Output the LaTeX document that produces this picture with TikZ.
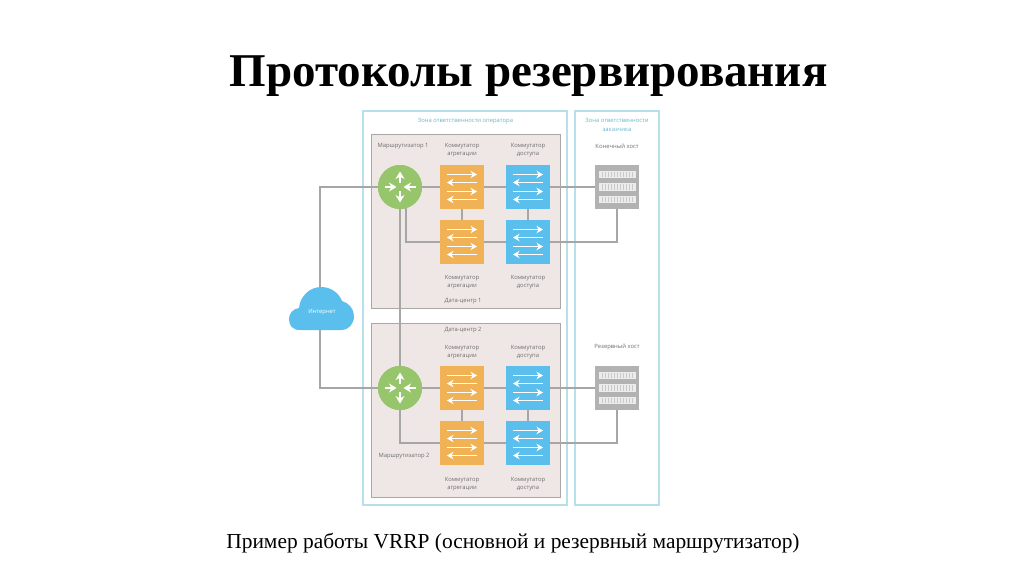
\documentclass[tikz,border=0pt]{standalone}
\usepackage{fontspec}
\setmainfont{Liberation Serif}
\newfontfamily\lab{Open Sans}
\usetikzlibrary{arrows.meta,calc}
\definecolor{zonec}{HTML}{B8E0EB}
\definecolor{dcfill}{HTML}{EEE7E5}
\definecolor{dcedge}{HTML}{ABA7A5}
\definecolor{linec}{HTML}{A6A6A6}
\definecolor{orangec}{HTML}{F0B255}
\definecolor{bluec}{HTML}{5BBFEE}
\definecolor{greenc}{HTML}{96C56C}
\definecolor{hostc}{HTML}{B2B2B2}
\definecolor{textc}{HTML}{6E6E6E}
\definecolor{zonet}{HTML}{66B6CC}
\tikzset{
 zonebox/.style={draw=zonec,line width=1.4pt,fill=white},
 dcbox/.style={draw=dcedge,line width=1pt,fill=dcfill},
 link/.style={draw=linec,line width=1.6pt},
 swbox/.style={minimum width=44pt,minimum height=44pt,inner sep=0pt,fill=#1},
 hostbox/.style={minimum width=44pt,minimum height=44pt,inner sep=0pt,fill=hostc},
 rtr/.style={circle,minimum size=44pt,inner sep=0pt,fill=greenc},
 lbl/.style={font=\lab\fontsize{5.85}{8.2}\selectfont,text=textc,align=center,inner sep=0pt},
 zlbl/.style={font=\lab\fontsize{5.85}{8.2}\selectfont,text=zonet,align=center,inner sep=0pt},
 warrow/.style={draw=white,line width=1.8pt,-{Stealth[length=6.5pt,width=7.5pt]}},
}
\newcommand{\swarrows}[1]{%
 \draw[warrow] ($(#1)+(-15,-12.5)$) -- ($(#1)+(15,-12.5)$);
 \draw[warrow] ($(#1)+(15,-4.5)$) -- ($(#1)+(-15,-4.5)$);
 \draw[warrow] ($(#1)+(-15,4.5)$) -- ($(#1)+(15,4.5)$);
 \draw[warrow] ($(#1)+(15,12.5)$) -- ($(#1)+(-15,12.5)$);}
\newcommand{\rtrarrows}[1]{%
 \foreach \dx/\dy/\ex/\ey in {0/-4/0/-15.5,0/4/0/15.5,-15.5/0/-3.5/0,15.5/0/3.5/0}{%
  \draw[draw=white,line width=1.9pt,-{Stealth[length=7.5pt,width=9pt]}] ($(#1)+(\dx pt,\dy pt)$) -- ($(#1)+(\ex pt,\ey pt)$);}}
\newcommand{\hostbars}[1]{%
 \foreach \dy in {-12.7,0,12.7}{%
  \fill[white!75!hostc] ($(#1)+(-18.5,\dy-3.7)$) rectangle ($(#1)+(18.5,\dy+3.7)$);
  \foreach \dx in {-15,-12,...,15}{\draw[hostc!70!white,line width=.5pt] ($(#1)+(\dx,\dy-2.7)$) -- ($(#1)+(\dx,\dy+2.7)$);}}}
\begin{document}
\begin{tikzpicture}[x=1pt,y=-1pt]
\useasboundingbox (0,0) rectangle (1024,574);
\fill[white] (0,0) rectangle (1024,574);
\node[font=\bfseries\fontsize{47}{50}\selectfont,inner sep=0pt] (title) at (528.5,76) {Протоколы резервирования};
\node[font=\fontsize{21.4}{24}\selectfont,inner sep=0pt] (cap) at (513,543) {Пример работы VRRP (основной и резервный маршрутизатор)};
\draw[zonebox] (363,111) rectangle (567,505);
\draw[zonebox] (575,111) rectangle (659,505);
\draw[dcbox] (371,134) rectangle (560,308);
\draw[dcbox] (371,323) rectangle (560,497);
\node[zlbl] (z1) at (465.5,121) {Зона ответственности оператора};
\node[zlbl] (z2) at (617,125) {Зона ответственности\\заказчика};
\node[lbl] (t1) at (403,146) {Маршрутизатор 1};
\node[lbl] (t2) at (462,150) {Коммутатор\\агрегации};
\node[lbl] (t3) at (528,150) {Коммутатор\\доступа};
\node[lbl] (t4) at (617,146) {Конечный хост};
\node[lbl] (t5) at (462,282) {Коммутатор\\агрегации};
\node[lbl] (t6) at (528,282) {Коммутатор\\доступа};
\node[lbl] (t7) at (463,301) {Дата-центр 1};
\node[lbl] (t8) at (463,330) {Дата-центр 2};
\node[lbl] (t9) at (462,352) {Коммутатор\\агрегации};
\node[lbl] (t10) at (528,352) {Коммутатор\\доступа};
\node[lbl] (t11) at (617,347) {Резервный хост};
\node[lbl] (t12) at (404,456) {Маршрутизатор 2};
\node[lbl] (t13) at (462,484) {Коммутатор\\агрегации};
\node[lbl] (t14) at (528,484) {Коммутатор\\доступа};
% nodes
\node[rtr] (r1) at (400,187) {};
\node[rtr] (r2) at (400,388) {};
\node[swbox=orangec] (a1) at (462,187) {};
\node[swbox=orangec] (a2) at (462,242) {};
\node[swbox=orangec] (a3) at (462,388) {};
\node[swbox=orangec] (a4) at (462,443) {};
\node[swbox=bluec] (b1) at (528,187) {};
\node[swbox=bluec] (b2) at (528,242) {};
\node[swbox=bluec] (b3) at (528,388) {};
\node[swbox=bluec] (b4) at (528,443) {};
\node[hostbox] (h1) at (617,187) {};
\node[hostbox] (h2) at (617,388) {};
% cloud
\fill[bluec] (300,330) .. controls (292,330) and (289,325) .. (289,319) .. controls (289,313) and (293,309) .. (299,308) .. controls (300,296) and (310,287) .. (321,287) .. controls (331,287) and (339,293) .. (342,301) .. controls (349,303) and (354,309) .. (354,316) .. controls (354,324) and (349,330) .. (341,330) -- cycle;
\node[lbl,text=white] (inet) at (322,312) {Интернет};
\coordinate (ct) at (320,287);
\coordinate (cb) at (320,330);
\coordinate (k1) at (320,187);
\coordinate (k2) at (320,388);
\coordinate (k3) at (406,207);
\coordinate (k4) at (617,242);
\coordinate (k5) at (617,443);
% links
\draw[link] (ct) -- (k1) -- (r1.west);
\draw[link] (cb) -- (k2) -- (r2.west);
\draw[link] (r1) -- (r2);
\draw[link] (r1.east) -- (a1.west);
\draw[link] (a1.east) -- (b1.west);
\draw[link] (b1.east) -- (h1.west);
\draw[link] (r2.east) -- (a3.west);
\draw[link] (a3.east) -- (b3.west);
\draw[link] (b3.east) -- (h2.west);
\draw[link] (a1.south) -- (a2.north);
\draw[link] (b1.south) -- (b2.north);
\draw[link] (a3.south) -- (a4.north);
\draw[link] (b3.south) -- (b4.north);
\draw[link] (k3) |- (a2.west);
\draw[link] (a2.east) -- (b2.west);
\draw[link] (b2.east) -- (k4) -- (h1.south);
\draw[link] (r2.south) |- (a4.west);
\draw[link] (a4.east) -- (b4.west);
\draw[link] (b4.east) -- (k5) -- (h2.south);
% redraw tops
\node[rtr] at (r1) {};
\node[rtr] at (r2) {};
\rtrarrows{r1}\rtrarrows{r2}
\swarrows{a1}\swarrows{a2}\swarrows{a3}\swarrows{a4}
\swarrows{b1}\swarrows{b2}\swarrows{b3}\swarrows{b4}
\hostbars{h1}\hostbars{h2}
\end{tikzpicture}
\end{document}
